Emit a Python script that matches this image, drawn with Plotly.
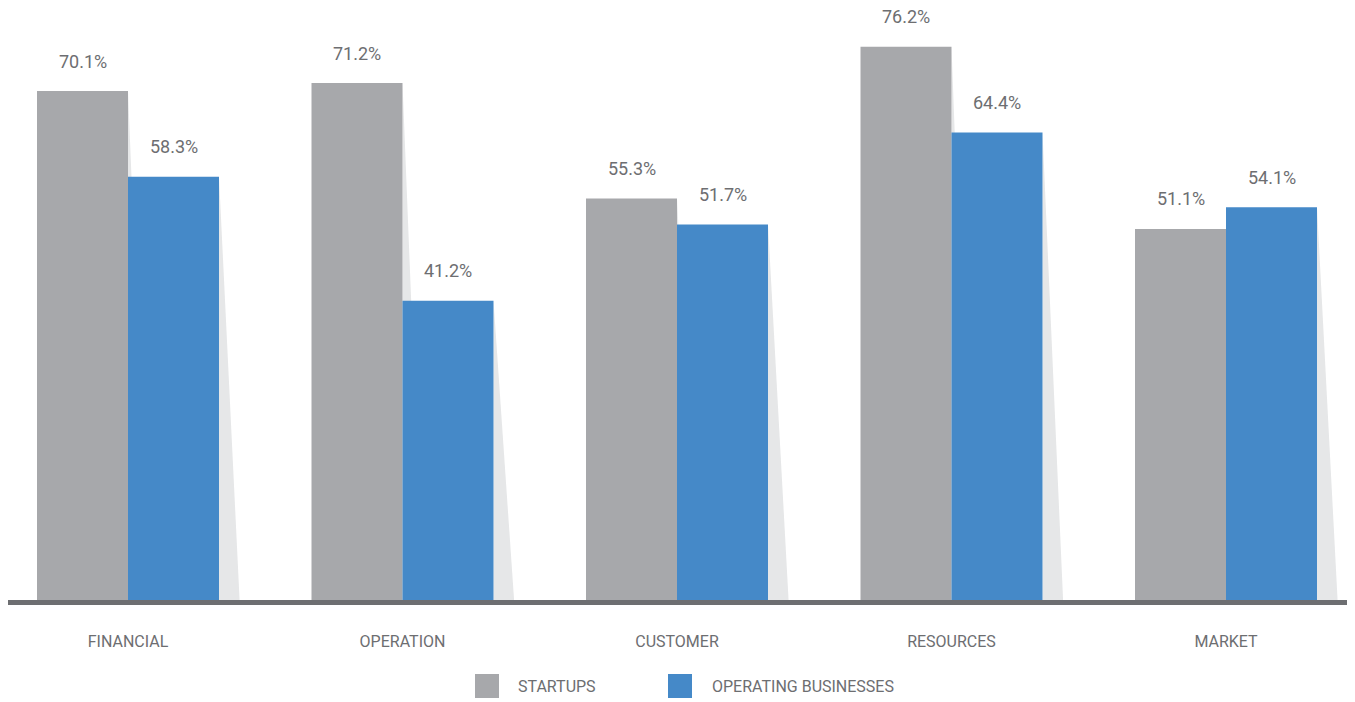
import plotly.graph_objects as go

categories = ["FINANCIAL", "OPERATION", "CUSTOMER", "RESOURCES", "MARKET"]
startups = [70.1, 71.2, 55.3, 76.2, 51.1]
operating = [58.3, 41.2, 51.7, 64.4, 54.1]
series_names = ["STARTUPS", "OPERATING BUSINESSES"]

GRAY = "#a7a8ab"
BLUE = "#4589c8"
SHADOW = "#e6e7e8"
TEXT = "#6d6e71"
FONT = "Roboto"

# page has an 8px body margin; figure coordinates are page coordinates minus 8
OFF = 8
W = 1355 - OFF
H = 702 - OFF
PLOT_H = 600 - OFF
BAR_W = 0.3315          # bar width in category units
SHADOW_D = 0.075        # shadow spread at the base, in category units

xs = list(range(len(categories)))

fig = go.Figure()
fig.add_trace(go.Bar(x=xs, y=startups, name=series_names[0], marker_color=GRAY,
                     width=BAR_W, offset=-BAR_W, marker_line_width=0, showlegend=False,
                     hoverinfo="y"))
fig.add_trace(go.Bar(x=xs, y=operating, name=series_names[1], marker_color=BLUE,
                     width=BAR_W, offset=0, marker_line_width=0, showlegend=False,
                     hoverinfo="y"))

shapes = []
annotations = []
for i, (s, o) in enumerate(zip(startups, operating)):
    for right, val in ((i, s), (i + BAR_W, o)):
        shapes.append(dict(type="path", xref="x", yref="y", layer="below",
                           path=f"M {right} {val} L {right + SHADOW_D} 0 L {right} 0 Z",
                           fillcolor=SHADOW, line=dict(width=0)))
    for cx, val in ((i - BAR_W / 2, s), (i + BAR_W / 2, o)):
        annotations.append(dict(x=cx, y=val, xref="x", yref="y", text=f"{val:.1f}%",
                                showarrow=False, yanchor="middle", yshift=30,
                                font=dict(family=FONT, size=18, color=TEXT)))

# baseline (paper-referenced so it is not clipped by the plot area)
shapes.append(dict(type="line", xref="paper", yref="paper", x0=0, x1=1.0,
                   y0=-2.5 / PLOT_H, y1=-2.5 / PLOT_H,
                   line=dict(color=TEXT, width=5), layer="above"))

# manual legend
legend_items = [(series_names[0], GRAY, 475, 516), (series_names[1], BLUE, 668, 710)]
for name, col, sx, tx in legend_items:
    sx -= OFF
    tx -= OFF
    shapes.append(dict(type="rect", xref="paper", yref="paper",
                       x0=sx / W, x1=(sx + 24) / W,
                       y0=-(674 - OFF - PLOT_H) / PLOT_H, y1=-(698 - OFF - PLOT_H) / PLOT_H,
                       fillcolor=col, line=dict(width=0)))
    annotations.append(dict(x=tx / W, y=-(686 - OFF - PLOT_H) / PLOT_H, xref="paper", yref="paper",
                            text=name, showarrow=False, xanchor="left", yanchor="middle",
                            font=dict(family=FONT, size=16, color=TEXT)))

px_per_cat = 274.5
first_center = 128 - OFF
x0 = (0 - first_center) / px_per_cat
x1 = (W - first_center) / px_per_cat
y_top = PLOT_H / 7.261

fig.update_layout(
    width=W, height=H,
    margin=dict(l=0, r=0, t=0, b=H - PLOT_H, pad=0),
    paper_bgcolor="white", plot_bgcolor="white",
    shapes=shapes, annotations=annotations,
    xaxis=dict(range=[x0, x1], tickmode="array", tickvals=xs, ticktext=categories,
               showgrid=False, zeroline=False, showline=False, ticks="",
               ticklabelstandoff=30, fixedrange=True,
               tickfont=dict(family=FONT, size=16, color=TEXT)),
    yaxis=dict(range=[0, y_top], showgrid=False, zeroline=False, showline=False,
               showticklabels=False, ticks="", fixedrange=True),
    showlegend=False,
)

fig.write_html("out.html")
